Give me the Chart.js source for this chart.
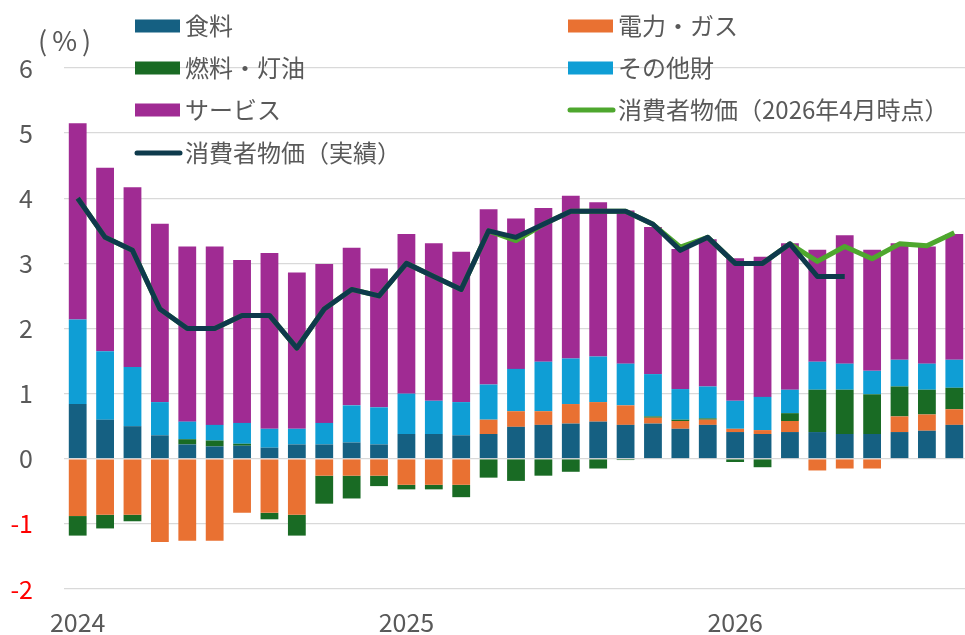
<!DOCTYPE html>
<html>
<head>
<meta charset="utf-8">
<script src="https://cdn.jsdelivr.net/npm/chart.js@4"></script>
<style>
  html, body { margin: 0; padding: 0; background: #fff; overflow: hidden; }
  #wrap { width: 965px; height: 635px; overflow: hidden; position: relative; }
  #box { width: 970px; height: 635px; position: absolute; left: 0; top: 0; }
</style>
</head>
<body>
<div id="wrap"><div id="box"><canvas id="chart-cpi"></canvas></div></div>
<script>
// 月（2024年1月～2026年9月）
const months = [
  '2024-01','2024-02','2024-03','2024-04','2024-05','2024-06','2024-07','2024-08','2024-09','2024-10','2024-11','2024-12',
  '2025-01','2025-02','2025-03','2025-04','2025-05','2025-06','2025-07','2025-08','2025-09','2025-10','2025-11','2025-12',
  '2026-01','2026-02','2026-03','2026-04','2026-05','2026-06','2026-07','2026-08','2026-09'
];

// 寄与度（%ポイント）
const food     = [0.84,0.60,0.50,0.36,0.22,0.19,0.20,0.17,0.22,0.22,0.25,0.22,
                  0.38,0.38,0.36,0.38,0.49,0.52,0.54,0.57,0.52,0.54,0.46,0.52,
                  0.41,0.38,0.41,0.41,0.38,0.38,0.41,0.43,0.52];
const elecGas  = [-0.88,-0.86,-0.86,-1.28,-1.26,-1.26,-0.83,-0.83,-0.86,-0.26,-0.26,-0.26,
                  -0.40,-0.40,-0.40,0.22,0.24,0.21,0.30,0.30,0.30,0.09,0.12,0.08,
                  0.05,0.06,0.17,-0.18,-0.15,-0.15,0.24,0.25,0.24];
const fuelOil  = [-0.30,-0.21,-0.10,0,0.08,0.09,0.03,-0.10,-0.32,-0.43,-0.35,-0.16,
                  -0.07,-0.07,-0.19,-0.29,-0.34,-0.26,-0.20,-0.15,-0.02,0.02,0.02,0.02,
                  -0.05,-0.13,0.12,0.65,0.68,0.61,0.46,0.38,0.33];
const otherGoods = [1.30,1.05,0.91,0.51,0.27,0.24,0.32,0.29,0.24,0.33,0.57,0.57,
                  0.62,0.51,0.51,0.54,0.65,0.76,0.70,0.70,0.64,0.65,0.47,0.49,
                  0.43,0.51,0.36,0.43,0.40,0.36,0.41,0.40,0.43];
const services = [3.01,2.82,2.76,2.74,2.69,2.74,2.50,2.70,2.40,2.44,2.42,2.13,
                  2.45,2.42,2.31,2.69,2.31,2.36,2.50,2.37,2.35,2.26,2.15,2.26,
                  2.19,2.15,2.25,1.72,1.97,1.86,1.79,1.80,1.93];

// 消費者物価（前年比）
const cpiForecast = [4.0,3.4,3.2,2.3,2.0,2.0,2.2,2.2,1.7,2.3,2.6,2.5,
                     3.0,2.8,2.6,3.5,3.35,3.6,3.8,3.8,3.8,3.6,3.25,3.4,
                     3.0,3.0,3.3,3.03,3.26,3.07,3.3,3.27,3.47];
const cpiActual   = [4.0,3.4,3.2,2.3,2.0,2.0,2.2,2.2,1.7,2.3,2.6,2.5,
                     3.0,2.8,2.6,3.5,3.4,3.6,3.8,3.8,3.8,3.6,3.2,3.4,
                     3.0,3.0,3.3,2.8,2.8,null,null,null,null];

const yTicks = [-2,-1,0,1,2,3,4,5,6];

const FONT = '"Noto Sans CJK JP", "Noto Sans", sans-serif';
const TEXT_GRAY = '#595959';

const C_FOOD = '#156082';
const C_ELEC = '#e97132';
const C_FUEL = '#196b24';
const C_OTHER = '#0f9ed5';
const C_SERV = '#a02b93';
const C_FCST = '#4ea72e';
const C_ACT = '#0e3a4c';

// 凡例（2列）
const legendItems = [
    { text: '食料', color: C_FOOD, kind: 'box', col: 0, row: 0 },
    { text: '電力・ガス', color: C_ELEC, kind: 'box', col: 1, row: 0 },
    { text: '燃料・灯油', color: C_FUEL, kind: 'box', col: 0, row: 1 },
    { text: 'その他財', color: C_OTHER, kind: 'box', col: 1, row: 1 },
    { text: 'サービス', color: C_SERV, kind: 'box', col: 0, row: 2 },
    { text: '消費者物価（2026年4月時点）', color: C_FCST, kind: 'line', col: 1, row: 2 },
    { text: '消費者物価（実績）', color: C_ACT, kind: 'line', col: 0, row: 3 }
];

const legendPlugin = {
    id: 'gridLegend',
    afterDraw(chart) {
        const ctx = chart.ctx;
        const colX = [135, 568];
        const rowY = [26, 68, 110, 153];
        ctx.save();
        ctx.font = '24px ' + FONT;
        ctx.textBaseline = 'middle';
        ctx.textAlign = 'left';
        legendItems.forEach(it => {
            const x = colX[it.col];
            const y = rowY[it.row];
            if (it.kind === 'box') {
                ctx.fillStyle = it.color;
                ctx.fillRect(x, y - 6.5, 45, 13);
            } else {
                ctx.strokeStyle = it.color;
                ctx.lineWidth = 5;
                ctx.lineCap = 'round';
                ctx.beginPath();
                ctx.moveTo(x + 2, y);
                ctx.lineTo(x + 45, y);
                ctx.stroke();
            }
            ctx.fillStyle = TEXT_GRAY;
            ctx.fillText(it.text, x + 50, y);
        });
        // 単位
        ctx.font = '27px ' + FONT;
        ctx.letterSpacing = '5px';
        ctx.fillText('(%)', 38, 41);
        ctx.restore();
    }
};

function barSet(label, data, color) {
    return {
        type: 'bar',
        label: label,
        data: data,
        backgroundColor: color,
        borderWidth: 0,
        categoryPercentage: 0.65,
        barPercentage: 1.0,
        order: 3
    };
}

var cpi = document.getElementById('chart-cpi').getContext('2d');
var chart_cpi = new Chart(cpi, {
    data: {
        labels: months,
        datasets: [
            barSet('食料', food, C_FOOD),
            barSet('電力・ガス', elecGas, C_ELEC),
            barSet('燃料・灯油', fuelOil, C_FUEL),
            barSet('その他財', otherGoods, C_OTHER),
            barSet('サービス', services, C_SERV),
            {
                type: 'line',
                label: '消費者物価（2026年4月時点）',
                data: cpiForecast,
                borderColor: C_FCST,
                borderWidth: 5,
                pointRadius: 0,
                tension: 0,
                borderJoinStyle: 'round',
                stack: 'fcst',
                order: 2
            },
            {
                type: 'line',
                label: '消費者物価（実績）',
                data: cpiActual,
                borderColor: C_ACT,
                borderWidth: 5,
                pointRadius: 0,
                tension: 0,
                borderJoinStyle: 'round',
                stack: 'act',
                order: 1
            }
        ]
    },
    options: {
        responsive: true,
        maintainAspectRatio: false,
        animation: false,
        layout: { padding: { top: 68, right: 2, left: 0, bottom: 0 } },
        plugins: {
            legend: { display: false },
            tooltip: { enabled: false }
        },
        scales: {
            x: {
                stacked: true,
                grid: { display: false },
                border: { display: false },
                ticks: {
                    autoSkip: false,
                    maxRotation: 0,
                    padding: 10,
                    color: TEXT_GRAY,
                    font: { family: FONT, size: 25 },
                    callback: function (v, i) {
                        const m = months[i];
                        return m.endsWith('-01') ? m.slice(0, 4) : '';
                    }
                },
                afterFit: function (s) { s.height = 43; }
            },
            y: {
                stacked: true,
                min: yTicks[0],
                max: yTicks[yTicks.length - 1],
                afterBuildTicks: function (s) { s.ticks = yTicks.map(v => ({ value: v })); },
                grid: { color: '#d9d9d9', lineWidth: 1.3, drawTicks: false },
                border: { display: false },
                ticks: {
                    padding: 31,
                    color: function (c) { return c.tick.value < 0 ? '#ff0000' : TEXT_GRAY; },
                    font: { family: FONT, size: 25 }
                },
                afterFit: function (s) { s.width = 64; }
            }
        }
    },
    plugins: [legendPlugin]
});
</script>
</body>
</html>
